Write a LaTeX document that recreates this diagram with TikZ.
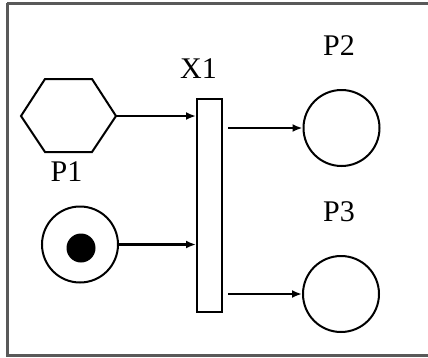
\documentclass[tikz,border=0pt]{standalone}
\usepackage{fontspec}
\setmainfont{Liberation Serif}
\usetikzlibrary{arrows.meta}
\begin{document}
\begin{tikzpicture}[x=1pt,y=-1pt,
  shp/.style={draw=black,line width=2pt},
  lbl/.style={inner sep=0pt,font=\fontsize{30}{34}\selectfont},
  arc/.style={draw=black,line width=2.2pt,-{Latex[length=10pt,width=8pt]}},
  placec/.style={shp,circle,minimum size=76pt,inner sep=0pt}]
\useasboundingbox (0,0) rectangle (428,357);
\draw[line width=3pt,draw=black!65] (7,3) -- (7,355) -- (440,355) (7,3) -- (440,3);
% hexagon P1
\draw[shp] (21,116) -- (45,79) -- (92,79) -- (116,116) -- (92,152) -- (45,152) -- cycle;
\coordinate (hexE) at (116,116);
\node[lbl] (p1l) at (66.5,172) {P1};
% token place
\node[placec] (tp) at (80,244.5) {};
\node[circle,fill=black,minimum size=29pt,inner sep=0pt] (tok) at (81,248) {};
% transition
\node[shp,rectangle,minimum width=25pt,minimum height=213pt,inner sep=0pt] (x1) at (209.5,205.5) {};
\node[lbl] (x1l) at (198.5,69) {X1};
% outputs
\node[placec] (p2) at (341.5,128) {};
\node[lbl] (p2l) at (339,46) {P2};
\node[placec] (p3) at (341,294) {};
\node[lbl] (p3l) at (339,212) {P3};
% arcs
\draw[arc] (hexE) -- (x1.west |- hexE);
\draw[arc] (tp.east) -- (x1.west |- tp.east);
\coordinate (o2) at (228,128);
\coordinate (o3) at (228,294);
\draw[arc] (o2) -- (p2.west);
\draw[arc] (o3) -- (p3.west);
\end{tikzpicture}
\end{document}
